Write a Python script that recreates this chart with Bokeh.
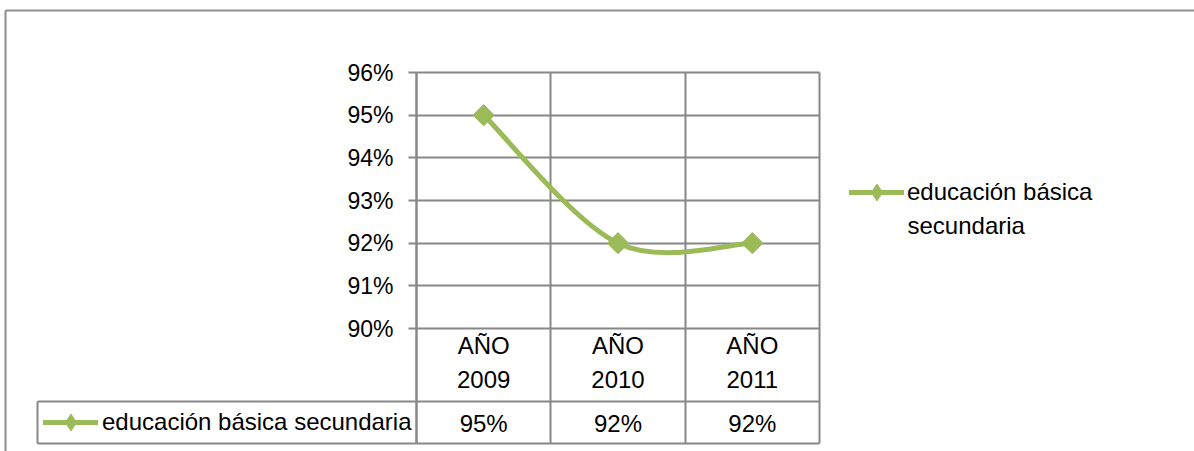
import math
from bokeh.plotting import figure
from bokeh.models import (Range1d, FixedTicker, PrintfTickFormatter, Legend, LegendItem,
                          Grid, LinearAxis, Label)
from bokeh.core.properties import value
from bokeh.embed import file_html
from bokeh.resources import INLINE

# ---------------- data ----------------
categories = ["AÑO 2009", "AÑO 2010", "AÑO 2011"]
series_name = "educación básica secundaria"
values = [95, 92, 92]
y_ticks = [90, 91, 92, 93, 94, 95, 96]

# ---------------- style / layout constants ----------------
GREEN = "#9BBB59"
GRID = "#878787"
BORDER = "#8e8e8e"
FONT = "Liberation Sans"
W, H = 1194, 451
PX_X = 134.33            # px per category
PX_Y = 42.667            # px per percentage point
X0_PX, Y96_PX = 416, 72  # position of the plot-area top-left corner
TABLE_BOTTOM = 90 - (443 - 328) / PX_Y
ROW_SEP = 90 - (401 - 328) / PX_Y
CELL_LEFT = (37 - X0_PX) / PX_X
X_MIN, X_MAX = -X0_PX / PX_X, (W - X0_PX) / PX_X
Y_MIN, Y_MAX = 96 - (H - Y96_PX) / PX_Y, 96 + Y96_PX / PX_Y
BORDER_LEFT = (5 - X0_PX) / PX_X
BORDER_TOP = 96 + (Y96_PX - 10) / PX_Y
n = len(categories)

p = figure(width=W, height=H, output_backend="svg", toolbar_location=None,
           x_range=Range1d(X_MIN, X_MAX), y_range=Range1d(Y_MIN, Y_MAX),
           x_axis_location=None, y_axis_location=None,
           min_border_left=0, min_border_right=0, min_border_top=0, min_border_bottom=0)
p.background_fill_color = "white"
p.border_fill_color = "white"
p.outline_line_color = None
p.center = [r for r in p.center if not isinstance(r, Grid)]

# outer chart border (top and left edges; the rest lies outside the window)
p.add_layout(Grid(dimension=1, ticker=FixedTicker(ticks=[BORDER_TOP]),
                  cross_bounds=(BORDER_LEFT, X_MAX + 1), grid_line_color=BORDER, grid_line_width=2))
p.add_layout(Grid(dimension=0, ticker=FixedTicker(ticks=[BORDER_LEFT]),
                  cross_bounds=(Y_MIN - 1, BORDER_TOP), grid_line_color=BORDER, grid_line_width=2))

# y axis fixed at the left edge of the plot area
yax = LinearAxis(fixed_location=0, bounds=(TABLE_BOTTOM, max(y_ticks)),
                 ticker=FixedTicker(ticks=y_ticks), formatter=PrintfTickFormatter(format="%d%%"))
yax.major_label_text_font = FONT
yax.major_label_text_font_size = "23px"
yax.major_label_text_color = "black"
yax.axis_line_color = GRID
yax.axis_line_width = 2
yax.major_tick_line_color = GRID
yax.major_tick_line_width = 2
yax.major_tick_out = 8
yax.major_tick_in = 0
yax.minor_tick_line_color = None
yax.major_label_standoff = 15
p.add_layout(yax, "left")

# grid / data-table lines
p.add_layout(Grid(dimension=1, ticker=FixedTicker(ticks=y_ticks), cross_bounds=(0, n),
                  grid_line_color=GRID, grid_line_width=2))
p.add_layout(Grid(dimension=1, ticker=FixedTicker(ticks=[ROW_SEP, TABLE_BOTTOM]),
                  cross_bounds=(CELL_LEFT, n), grid_line_color=GRID, grid_line_width=2))
p.add_layout(Grid(dimension=0, ticker=FixedTicker(ticks=list(range(n + 1))),
                  cross_bounds=(TABLE_BOTTOM, max(y_ticks)),
                  grid_line_color=GRID, grid_line_width=2))
p.add_layout(Grid(dimension=0, ticker=FixedTicker(ticks=[CELL_LEFT]),
                  cross_bounds=(TABLE_BOTTOM, ROW_SEP),
                  grid_line_color=GRID, grid_line_width=2))

# smoothed line through the data (Bezier segments)
xs = [i + 0.5 for i in range(n)]
x0, y0, x1, y1, cx0, cy0, cx1, cy1 = [], [], [], [], [], [], [], []
for i in range(n - 1):
    pxp, pyp = (xs[i - 1], values[i - 1]) if i > 0 else (xs[i], values[i])
    pxn, pyn = (xs[i + 2], values[i + 2]) if i + 2 < n else (xs[i + 1], values[i + 1])
    x0.append(xs[i]); y0.append(values[i]); x1.append(xs[i + 1]); y1.append(values[i + 1])
    cx0.append(xs[i] + (xs[i + 1] - pxp) / 6); cy0.append(values[i] + (values[i + 1] - pyp) / 6)
    cx1.append(xs[i + 1] - (pxn - xs[i]) / 6); cy1.append(values[i + 1] - (pyn - values[i]) / 6)

curve = p.bezier(x0=x0, y0=y0, x1=x1, y1=y1, cx0=cx0, cy0=cy0, cx1=cx1, cy1=cy1,
                 line_color=GREEN, line_width=5, line_cap="round")
# diamond marker (used for legend key; covered by the rotated squares in the plot)
dia = p.scatter(xs, values, marker="diamond", size=10, fill_color=GREEN, line_color=GREEN)
pts = p.scatter(xs, values, marker="square", angle=math.pi / 4, size=15,
                fill_color=GREEN, line_color=GREEN)

# table text
p.text(x=xs, y=[90 - (362 - 328) / PX_Y] * n, text=[c.replace(" ", "\n") for c in categories],
       text_font=value(FONT), text_font_size="24px", text_color="black",
       text_align="center", text_baseline="middle", text_line_height=1.25)
p.text(x=xs, y=[90 - (422.5 - 328) / PX_Y] * n, text=[f"{v}%" for v in values],
       text_font=value(FONT), text_font_size="24px", text_color="black",
       text_align="center", text_baseline="middle")

# right legend
first, last = series_name.rsplit(" ", 1)
leg_r = Legend(items=[LegendItem(label=first, renderers=[curve, dia])],
               location=(849, H - 213), border_line_color=None, background_fill_alpha=0,
               padding=0, margin=0, glyph_width=55, glyph_height=42, label_standoff=3,
               label_text_font=FONT, label_text_font_size="24px", label_text_color="black")
p.add_layout(leg_r, "center")
p.add_layout(Label(x=907, y=H - 225, x_units="screen", y_units="screen", text=last,
                   text_font=FONT, text_font_size="24px", text_color="black",
                   text_baseline="middle"))

# table legend cell
leg_t = Legend(items=[LegendItem(label=series_name, renderers=[curve, dia])],
               location=(43, H - 443), border_line_color=None, background_fill_alpha=0,
               padding=0, margin=0, glyph_width=55, glyph_height=42, label_standoff=4,
               label_text_font=FONT, label_text_font_size="24px", label_text_color="black")
p.add_layout(leg_t, "center")

open("out.html", "w").write(file_html(p, INLINE))
